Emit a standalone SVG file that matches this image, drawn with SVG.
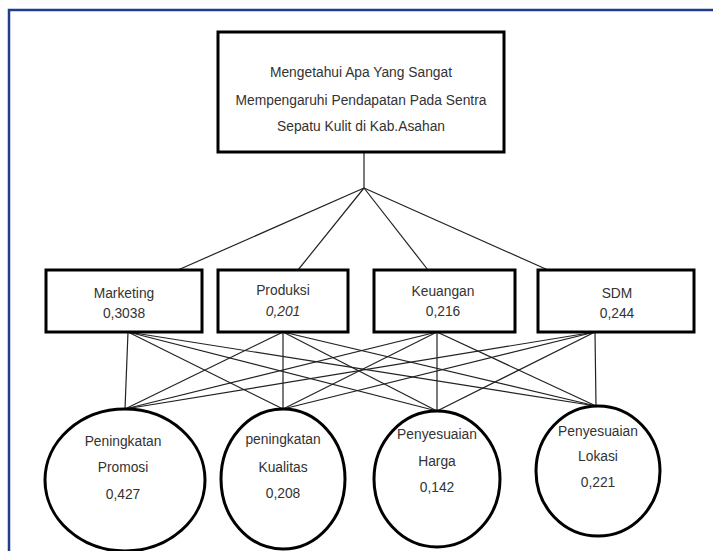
<svg xmlns="http://www.w3.org/2000/svg" width="713" height="551" viewBox="0 0 713 551">
<style>
.box{fill:#fff;stroke:#000;stroke-width:3}
.t{font-family:"Liberation Sans",Arial,sans-serif;font-size:13.8px;fill:#333;text-anchor:middle}
.c line{stroke:#222;stroke-width:1.2}
</style>
<rect x="0" y="0" width="713" height="551" fill="#fff"/>
<rect x="9" y="10" width="720" height="560" fill="none" stroke="#1f3d8c" stroke-width="2.5"/>
<g class="c" id="connectors">
<line x1="364" y1="152" x2="364" y2="188"/>
<line x1="364" y1="188" x2="178" y2="270"/>
<line x1="364" y1="188" x2="298" y2="270"/>
<line x1="364" y1="188" x2="428" y2="270"/>
<line x1="364" y1="188" x2="548" y2="270"/>
<line x1="128" y1="332" x2="125" y2="409"/>
<line x1="128" y1="332" x2="283" y2="409"/>
<line x1="128" y1="332" x2="437" y2="411"/>
<line x1="128" y1="332" x2="596" y2="406"/>
<line x1="283" y1="332" x2="125" y2="409"/>
<line x1="283" y1="332" x2="283" y2="409"/>
<line x1="283" y1="332" x2="437" y2="411"/>
<line x1="283" y1="332" x2="596" y2="406"/>
<line x1="437" y1="332" x2="125" y2="409"/>
<line x1="437" y1="332" x2="283" y2="409"/>
<line x1="437" y1="332" x2="437" y2="411"/>
<line x1="437" y1="332" x2="596" y2="406"/>
<line x1="595" y1="332" x2="125" y2="409"/>
<line x1="595" y1="332" x2="283" y2="409"/>
<line x1="595" y1="332" x2="437" y2="411"/>
<line x1="595" y1="332" x2="596" y2="406"/>
</g>
<g id="goal">
<rect class="box" x="218" y="32" width="286" height="120"/>
<text class="t" x="361" y="77">Mengetahui Apa Yang Sangat</text>
<text class="t" x="361" y="105">Mempengaruhi Pendapatan Pada Sentra</text>
<text class="t" x="361" y="131">Sepatu Kulit di Kab.Asahan</text>
</g>
<g id="marketing">
<rect class="box" x="46" y="270" width="156" height="62"/>
<text class="t" x="124" y="298">Marketing</text>
<text class="t" x="124" y="318">0,3038</text>
</g>
<g id="produksi">
<rect class="box" x="218" y="270" width="130" height="62"/>
<text class="t" x="283" y="295">Produksi</text>
<text class="t" x="283" y="316" font-style="italic">0,201</text>
</g>
<g id="keuangan">
<rect class="box" x="374" y="270" width="141" height="62"/>
<text class="t" x="443" y="296">Keuangan</text>
<text class="t" x="443" y="316">0,216</text>
</g>
<g id="sdm">
<rect class="box" x="538" y="270" width="156" height="62"/>
<text class="t" x="617" y="298">SDM</text>
<text class="t" x="617" y="318">0,244</text>
</g>
<g id="promosi">
<ellipse class="box" cx="125" cy="480" rx="80" ry="71"/>
<text class="t" x="123" y="446">Peningkatan</text>
<text class="t" x="123" y="472">Promosi</text>
<text class="t" x="123" y="499">0,427</text>
</g>
<g id="kualitas">
<ellipse class="box" cx="283" cy="479" rx="62" ry="70"/>
<text class="t" x="283" y="444">peningkatan</text>
<text class="t" x="283" y="472">Kualitas</text>
<text class="t" x="283" y="498">0,208</text>
</g>
<g id="harga">
<ellipse class="box" cx="437" cy="479" rx="63" ry="68"/>
<text class="t" x="437" y="439">Penyesuaian</text>
<text class="t" x="437" y="466">Harga</text>
<text class="t" x="437" y="492">0,142</text>
</g>
<g id="lokasi">
<ellipse class="box" cx="598" cy="471" rx="62" ry="65"/>
<text class="t" x="598" y="436">Penyesuaian</text>
<text class="t" x="598" y="461">Lokasi</text>
<text class="t" x="598" y="487">0,221</text>
</g>
</svg>
